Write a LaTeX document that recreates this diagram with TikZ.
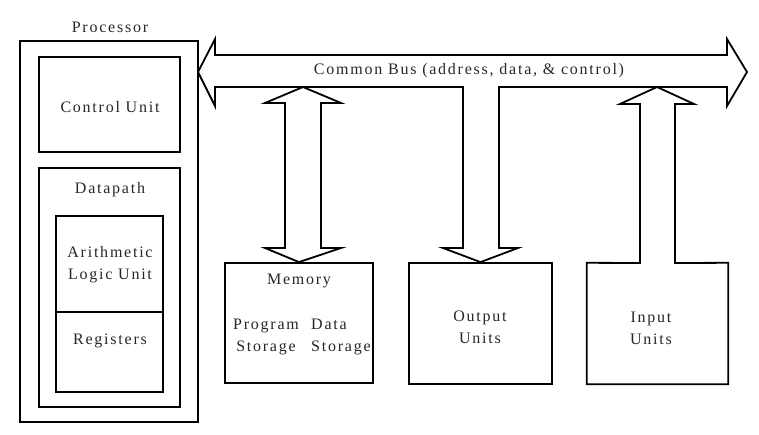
\documentclass[tikz,border=0pt]{standalone}
\usepackage{fontspec}
\setmainfont{Liberation Serif}[LetterSpace=11]
\begin{document}
\begin{tikzpicture}[x=1pt,y=-1pt,
  every node/.style={font=\fontsize{16}{22}\selectfont, text=black!85, inner sep=0pt},
  box/.style={draw=black, line width=1.8pt, rectangle, minimum width=#1},
  outl/.style={draw=black, line width=1.8pt, line join=miter},
  lbl/.style={anchor=center, align=center}]
\useasboundingbox (0,0) rectangle (759,434);
% processor
\node[box=178pt, minimum height=381pt] (proc) at (109,231.5) {};
\node[box=141pt, minimum height=95pt] (cu) at (109.5,104.5) {};
\node[box=141pt, minimum height=239pt] (dp) at (109.5,287.5) {};
\node[box=107pt, minimum height=96pt] (alu) at (109.5,264) {};
\node[box=107pt, minimum height=80pt] (reg) at (109.5,352) {};
\node[lbl] (proct) at (110,27) {Processor};
\node[lbl] (cut) at (110,107) {Control Unit};
\node[lbl] (dpt) at (110,190) {Datapath};
\node[lbl] (alut) at (110,265) {Arithmetic\\Logic Unit};
\node[lbl] (regt) at (110,341) {Registers};
% memory and output boxes
\node[box=148pt, minimum height=120pt] (mem) at (299,323) {};
\node[box=143pt, minimum height=121pt] (out) at (480.5,323.5) {};
\node[minimum width=141pt, minimum height=121pt] (inp) at (657.5,323.5) {};
\node[lbl] (memt) at (299,281) {Memory};
\node[lbl] (prog) at (266,337) {Program\\Storage};
\node[anchor=west, align=left] (data) at (311,337) {Data\\Storage};
\node[lbl] (outt) at (480,327) {Output\\Units};
\node[lbl] (inpt) at (651,328.5) {Input\\Units};
% common bus with output arrow
\draw[outl] (198,72) -- (215,39) -- (215,55) -- (727,55) -- (727,39) -- (747,72)
  -- (727,106) -- (727,87) -- (499,87) -- (499,248) -- (518,248) -- (out.north)
  -- (443,248) -- (463,248) -- (463,87) -- (215,87) -- (215,106) -- cycle;
\node[lbl] (bust) at (469,71) {Common Bus (address, data, \& control)};
% memory double arrow
\draw[outl] (303,87) -- (341,103) -- (321,103) -- (321,248) -- (341,248) -- (mem.north)
  -- (265,248) -- (285,248) -- (285,103) -- (265,103) -- cycle;
% input box with arrow
\draw[outl] (inp.north west) -- (640,263) -- (640,104) -- (620,104) -- (657,87)
  -- (694,104) -- (675,104) -- (675,263) -- (inp.north east) -- (inp.south east)
  -- (inp.south west) -- cycle;
\end{tikzpicture}
\end{document}
